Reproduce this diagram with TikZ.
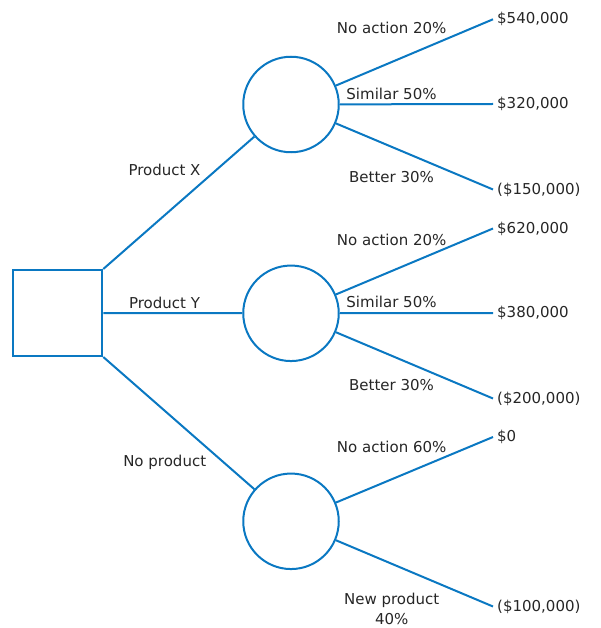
\documentclass[tikz,border=0pt]{standalone}
\usepackage{fontspec}
\setmainfont{DejaVu Sans}
\definecolor{treeblue}{HTML}{0A78C2}
\definecolor{txt}{HTML}{262626}
\begin{document}
\begin{tikzpicture}[x=1pt,y=-1pt,
  every node/.style={font=\fontsize{15}{20}\selectfont, text=txt},
  link/.style={draw=treeblue, line width=2pt},
  decbox/.style={draw=treeblue, line width=2pt, minimum width=89.6pt, minimum height=86pt, inner sep=0pt},
  chance/.style={draw=treeblue, line width=2pt, circle, minimum size=95.5pt, inner sep=0pt},
  outcome/.style={anchor=west, inner xsep=4pt, inner ysep=1pt},
  lbl/.style={anchor=base, inner sep=0pt}
]
\useasboundingbox (0,0) rectangle (600,628);

\node[decbox] (d) at (57.5,313) {};
\node[chance] (c1) at (291,104.5) {};
\node[chance] (c2) at (291,313.3) {};
\node[chance] (c3) at (291,521.3) {};

\draw[link] (d.north east) -- (c1);
\draw[link] (d.east) -- (c2);
\draw[link] (d.south east) -- (c3);

\node[lbl] (lx) at (164.5,176) {Product X};
\node[lbl] (ly) at (164.5,308) {Product Y};
\node[lbl] (ln) at (164.7,466) {No product};

% outcomes
\node[outcome] (o1) at (493,19.3) {\$540,000};
\node[outcome] (o2) at (493,104) {\$320,000};
\node[outcome] (o3) at (493,189.5) {(\$150,000)};
\node[outcome] (o4) at (493,228.5) {\$620,000};
\node[outcome] (o5) at (493,313) {\$380,000};
\node[outcome] (o6) at (493,398.5) {(\$200,000)};
\node[outcome] (o7) at (493,437) {\$0};
\node[outcome] (o8) at (493,606.5) {(\$100,000)};

\draw[link] (c1) -- (o1.west);
\draw[link] (c1) -- (o2.west);
\draw[link] (c1) -- (o3.west);
\draw[link] (c2) -- (o4.west);
\draw[link] (c2) -- (o5.west);
\draw[link] (c2) -- (o6.west);
\draw[link] (c3) -- (o7.west);
\draw[link] (c3) -- (o8.west);

% branch labels
\node[lbl] (b1) at (391.7,34) {No action 20\%};
\node[lbl] (b2) at (391.5,100) {Similar 50\%};
\node[lbl] (b3) at (391.5,183) {Better 30\%};
\node[lbl] (b4) at (391.7,245) {No action 20\%};
\node[lbl] (b5) at (391.5,307.7) {Similar 50\%};
\node[lbl] (b6) at (391.5,390) {Better 30\%};
\node[lbl] (b7) at (391.7,452.3) {No action 60\%};
\node[align=center, inner sep=0pt] (b8) at (391.7,609.3) {New product\\40\%};
\end{tikzpicture}
\end{document}
